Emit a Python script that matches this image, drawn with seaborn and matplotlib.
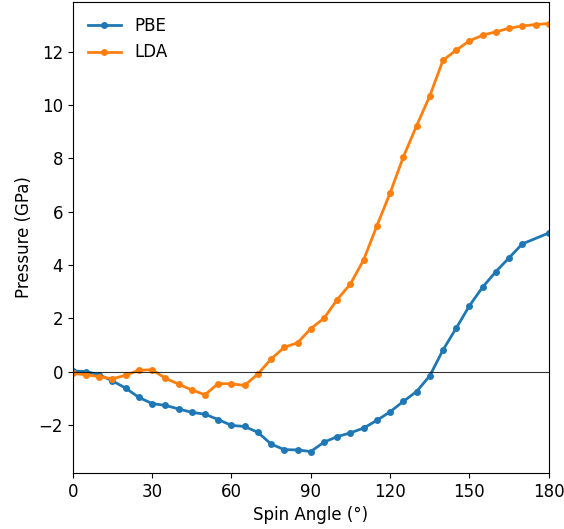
import numpy as np
import pandas as pd
import matplotlib
matplotlib.use("Agg")
import matplotlib.pyplot as plt
import seaborn as sns

# spin angle grid (degrees)
angles_lda = list(range(0, 181, 5))
angles_pbe = [a for a in range(0, 181, 5) if a != 175]

pbe = [0.02, 0.0, -0.12, -0.35, -0.62, -0.97, -1.2, -1.27, -1.4, -1.53,
       -1.6, -1.8, -2.02, -2.06, -2.28, -2.72, -2.93, -2.94, -3.0, -2.65,
       -2.44, -2.3, -2.12, -1.83, -1.51, -1.12, -0.75, -0.16, 0.81, 1.63,
       2.47, 3.17, 3.75, 4.27, 4.79, 5.2]

lda = [-0.07, -0.12, -0.19, -0.27, -0.14, 0.05, 0.07, -0.25, -0.47, -0.69,
       -0.87, -0.45, -0.46, -0.52, -0.09, 0.47, 0.91, 1.08, 1.61, 2.0,
       2.7, 3.29, 4.19, 5.47, 6.7, 8.05, 9.22, 10.34, 11.68, 12.06,
       12.41, 12.62, 12.75, 12.88, 12.97, 13.02, 13.06]

df = pd.concat([
    pd.DataFrame({"angle": angles_pbe, "pressure": pbe, "method": "PBE"}),
    pd.DataFrame({"angle": angles_lda, "pressure": lda, "method": "LDA"}),
])

fig, ax = plt.subplots(figsize=(5.64, 5.29), dpi=100)
fig.subplots_adjust(left=0.129, right=0.973, top=0.996, bottom=0.106)

sns.lineplot(data=df, x="angle", y="pressure", hue="method",
             palette=["#1f77b4", "#ff7f0e"], marker="o", markersize=5,
             markeredgewidth=0, linewidth=2, ax=ax)

ax.axhline(0, color="black", linewidth=0.8, alpha=0.8)
ax.set_xlim(0, 180)
ax.set_xticks([0, 30, 60, 90, 120, 150, 180])
ax.set_xlabel("Spin Angle (°)", fontsize=12)
ax.set_ylabel("Pressure (GPa)", fontsize=12)
ax.tick_params(labelsize=12)
ax.legend(title=None, loc="upper left", fontsize=12, frameon=False)

fig.savefig("out.png", dpi=100)
